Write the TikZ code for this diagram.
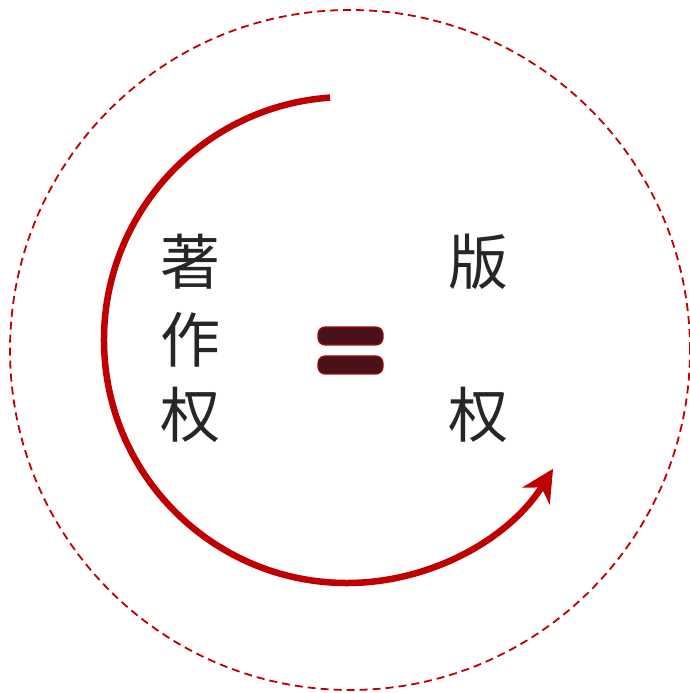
\documentclass[tikz,border=0pt]{standalone}
\usepackage{fontspec}
\newfontfamily\cjk{Noto Sans CJK SC}
\usetikzlibrary{arrows.meta}
\definecolor{cred}{HTML}{C00000}
\definecolor{bar}{HTML}{4A1218}
\definecolor{bared}{HTML}{9A1010}
\definecolor{txt}{HTML}{262626}
\tikzset{
  ch/.style={font=\cjk\fontsize{60}{62}\selectfont, text=txt, inner sep=0pt},
  eqbar/.style={draw=bared, fill=bar, line width=1.2pt, rounded corners=7pt}
}
\begin{document}
\begin{tikzpicture}[x=1pt,y=1pt]
\useasboundingbox (0,0) rectangle (689,693);
% dashed circle
\draw[cred, line width=1.8pt, dash pattern=on 8pt off 5pt] (350,343) circle (340);
% red arc with arrow
\draw[cred, line width=6.5pt, -{Stealth[length=32pt,width=32pt,inset=10pt]}]
  (347,353) ++(94:243) arc[start angle=94, end angle=328, radius=243];
% texts
\node[ch] (z1) at (190,431) {著};
\node[ch] (z2) at (190,353) {作};
\node[ch] (z3) at (190,278) {权};
\node[ch] (b1) at (478,431) {版};
\node[ch] (b2) at (478,278) {权};
% equals sign
\draw[eqbar] (318,348) rectangle (383,366);
\draw[eqbar] (318,319) rectangle (383,337);
\end{tikzpicture}
\end{document}
